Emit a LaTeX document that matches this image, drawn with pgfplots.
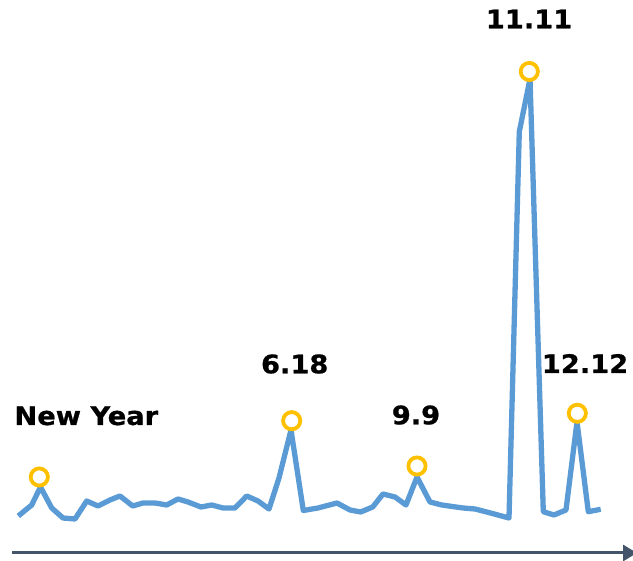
\documentclass[border=0pt]{standalone}
\usepackage{pgfplots}
\pgfplotsset{compat=1.18}
\usepackage{fontspec}
\setmainfont{DejaVu Sans}[FakeStretch=1.07, BoldFeatures={FakeBold=0.8}]
\usetikzlibrary{arrows.meta}
\definecolor{lineblue}{HTML}{5B9BD5}
\definecolor{gold}{HTML}{FFC000}
\definecolor{arrowc}{HTML}{44546A}
\begin{document}
\begin{tikzpicture}
\useasboundingbox (0,0) rectangle (633pt,561pt);
\begin{axis}[at={(0,0)}, anchor=south west,
  width=633pt, height=561pt, scale only axis,
  xmin=0, xmax=633, ymin=0, ymax=561,
  hide axis, clip=false]
% arrow
\addplot[arrowc, line width=3pt, -{Triangle[length=14pt,width=16pt]}] coordinates {(12,8) (637,8)};
% main series (y = 561 - pixel row)
\addplot[lineblue, line width=5.3pt, line join=round, mark=none] coordinates {
(18.3,45) (31.7,56) (40.5,74) (51.7,53) (63,43) (75,42) (86.7,60) (98,55)
(110,61) (120,65) (132.7,55) (143,58) (155,58) (166.7,56) (178,62) (188,59)
(201,54) (211.7,56) (223,53) (235,53) (246.7,65) (258,60) (269,52) (279,83)
(291,131) (303.3,50.5) (318,53) (337,58) (350,51) (360.7,49) (372.7,54) (383,67)
(395,64) (406,56) (417,84) (430,59) (441.7,56) (463,53) (475,52) (486.7,49)
(509,43) (519.3,429.3) (530,482) (543.3,49.3) (554,46) (566,51) (577,139)
(588.3,49.3) (600.7,51.7)
};
% highlight circles
\addplot[only marks, mark=*, mark size=8.6pt, mark options={draw=gold, fill=white, line width=3.8pt}] coordinates {
(39.3,84) (291.7,140.3) (417,95) (529.3,489.5) (577.3,147.7)
};
% labels
\addplot[draw=none, mark=none, nodes near coords, point meta=explicit symbolic,
  nodes near coords style={anchor=base, inner sep=0pt, font=\fontsize{25.5}{30}\selectfont\bfseries, text=black}]
coordinates {
(86.3,136)[New Year] (294.7,187.7)[6.18] (416,136.7)[9.9] (529,532.7)[11.11] (585,188)[12.12]
};
\end{axis}
\end{tikzpicture}
\end{document}
